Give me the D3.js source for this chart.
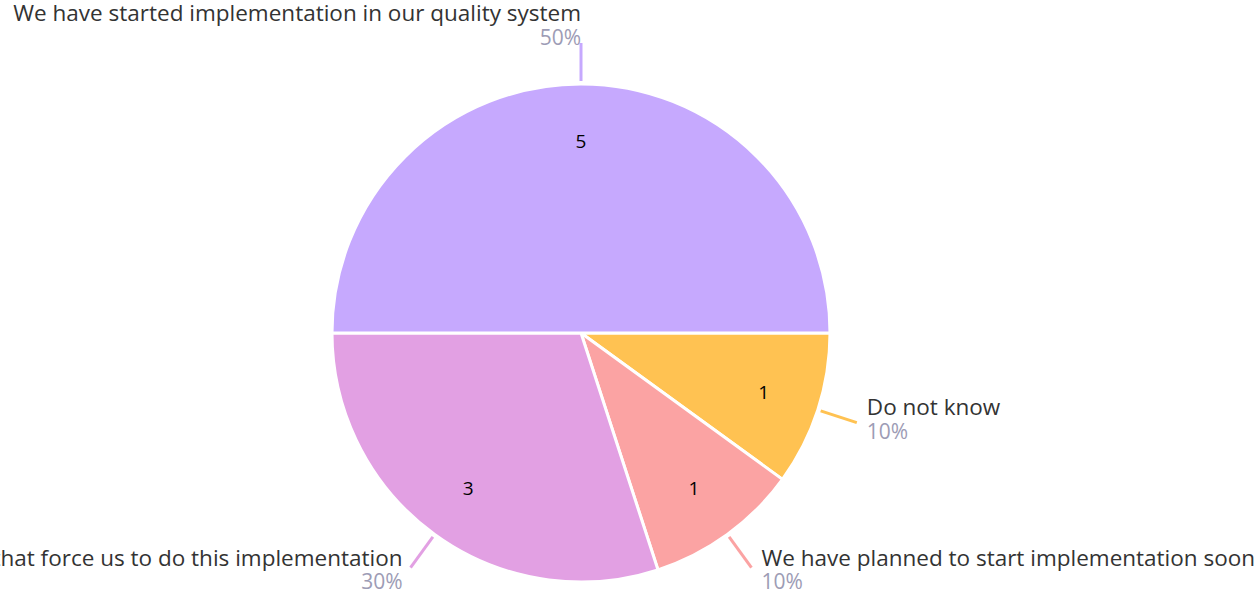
<!DOCTYPE html>
<html>
<head>
<meta charset="utf-8">
<script src="https://cdn.jsdelivr.net/npm/d3@7/dist/d3.min.js"></script>
<style>
  html, body { margin: 0; padding: 0; background: #fff; overflow: hidden; }
  svg { display: block; }
</style>
</head>
<body>
<svg id="chart" width="1258" height="593"></svg>
<script>
const categories = [
  "Do not know",
  "We have planned to start implementation soon",
  "There are regulations that force us to do this implementation",
  "We have started implementation in our quality system"
];
const counts = [1, 1, 3, 5];
const percentLabels = ["10%", "10%", "30%", "50%"];
const colors = ["#ffc252", "#fba3a3", "#e2a0e3", "#c6a9fe"];

const W = 1258, H = 593;
const cx = 581, cy = 333, R = 249;
const FONT = "'Open Sans', 'Noto Sans', sans-serif";
const svg = d3.select("#chart");
const g = svg.append("g").attr("transform", `translate(${cx},${cy})`);

const data = categories.map((c, i) => ({ name: c, value: counts[i], pct: percentLabels[i], color: colors[i] }));

const pie = d3.pie().value(d => d.value).sort(null)
  .startAngle(Math.PI / 2).endAngle(Math.PI / 2 + 2 * Math.PI);
const arcs = pie(data);
const arc = d3.arc().innerRadius(0).outerRadius(R);

g.selectAll("path.slice").data(arcs).join("path")
  .attr("class", "slice")
  .attr("d", arc)
  .attr("fill", d => d.data.color)
  .attr("stroke", "#fff")
  .attr("stroke-width", 3)
  .attr("stroke-linejoin", "miter");

const labelArc = d3.arc().innerRadius(192).outerRadius(192);
g.selectAll("text.val").data(arcs).join("text")
  .attr("class", "val")
  .attr("x", d => labelArc.centroid(d)[0])
  .attr("y", d => labelArc.centroid(d)[1])
  .attr("text-anchor", "middle")
  .attr("dominant-baseline", "central")
  .attr("font-family", FONT)
  .attr("font-size", 19)
  .attr("fill", "#000")
  .text(d => d.data.value);

const mid = d => (d.startAngle + d.endAngle) / 2;
const pt = (a, r) => [Math.sin(a) * r, -Math.cos(a) * r];

g.selectAll("line.lead").data(arcs).join("line")
  .attr("class", "lead")
  .attr("x1", d => pt(mid(d), 252)[0])
  .attr("y1", d => pt(mid(d), 252)[1])
  .attr("x2", d => pt(mid(d), 290)[0])
  .attr("y2", d => pt(mid(d), 290)[1])
  .attr("stroke", d => d.data.color)
  .attr("stroke-width", 3);

const lab = g.selectAll("g.lab").data(arcs).join("g").attr("class", "lab")
  .attr("transform", d => {
    const a = mid(d);
    const [x, y] = pt(a, 290);
    const s = Math.sin(a);
    const dx = s > 0.01 ? 10 : (s < -0.01 ? -8 : 0);
    return `translate(${x + dx},${y})`;
  })
  .attr("text-anchor", d => Math.sin(mid(d)) > 0.01 ? "start" : "end");

lab.append("text")
  .attr("y", d => -22 + 11 * (1 - Math.cos(mid(d))))
  .attr("font-family", FONT)
  .attr("font-size", 22.5)
  .attr("fill", "#333")
  .text(d => d.data.name);

lab.append("text")
  .attr("y", d => 1.5 + 11 * (1 - Math.cos(mid(d))))
  .attr("font-family", FONT)
  .attr("font-size", 21)
  .attr("fill", "#9d9cb5")
  .text(d => d.data.pct);
</script>
</body>
</html>
